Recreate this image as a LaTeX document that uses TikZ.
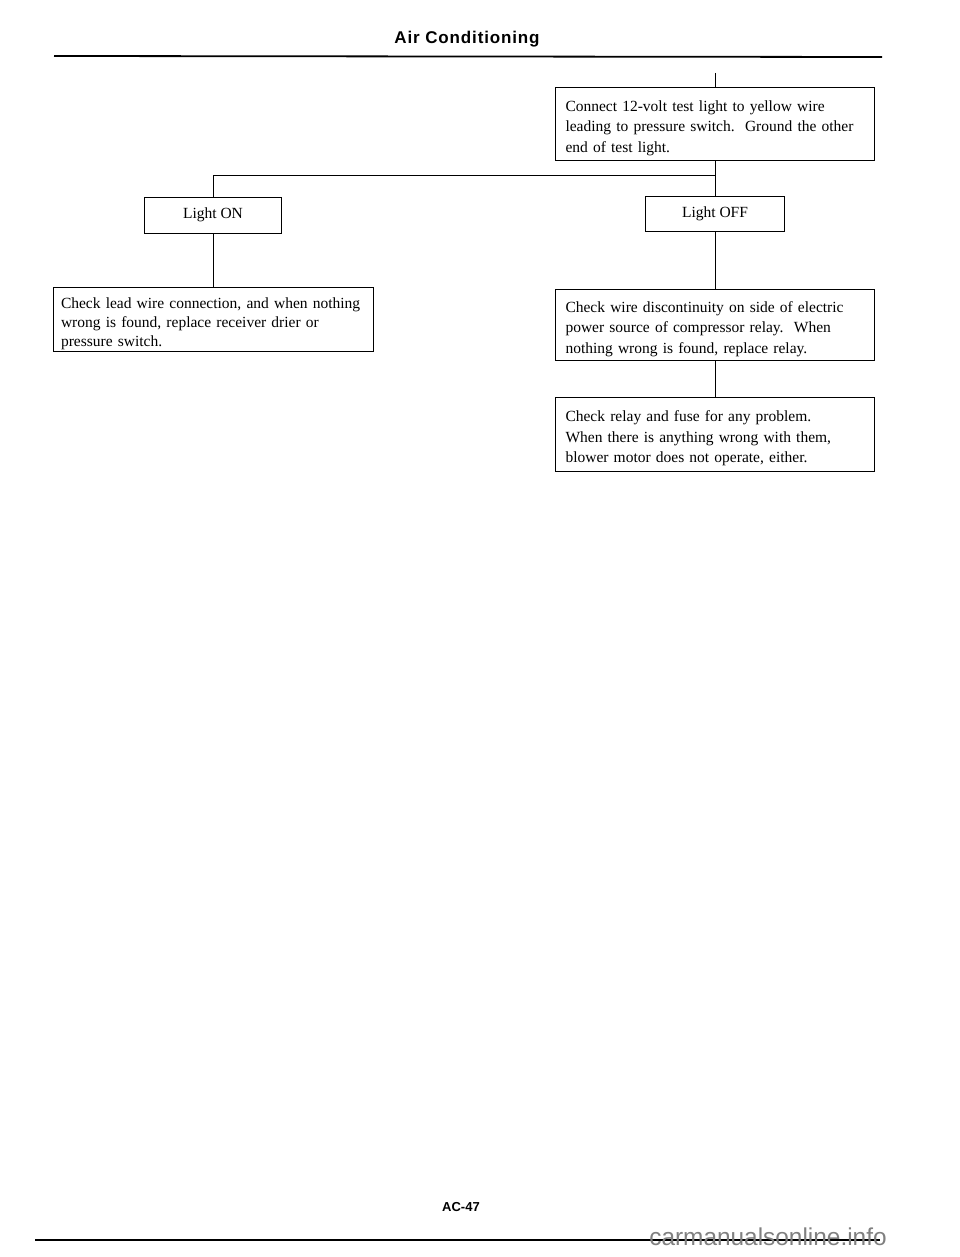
\documentclass[tikz,border=0pt]{standalone}
\usepackage{fontspec}
\setmainfont{Liberation Serif}
\newfontfamily\headfont[LetterSpace=5]{Liberation Sans}
\newfontfamily\markfont{Liberation Sans}
\usepackage{tikz}
\usetikzlibrary{positioning}
\tikzset{chk/.style={draw,line width=0.9pt,align=left,inner xsep=10pt,inner ysep=0pt,font=\fontsize{15.5}{20.5}\selectfont,
    execute at begin node={\rule{0pt}{20pt}}},
  lamp/.style={draw,line width=0.9pt,align=center,inner sep=0pt,font=\fontsize{15.5}{20}\selectfont},
  wire/.style={line width=0.9pt}}

\begin{document}
\begin{tikzpicture}[x=1pt,y=-1pt]
    \useasboundingbox (0,0) rectangle (960,1257);

    % page head and foot
    \node[anchor=base,font=\headfont\bfseries\fontsize{17}{20}\selectfont] (title) at (467,44) {Air Conditioning};
    \draw[line width=1.8pt] (54,56) -- (882,57);
    \node[anchor=base,font=\markfont\bfseries\fontsize{13}{15}\selectfont] (page) at (461,1211) {AC-47};
    \draw[line width=1.5pt] (35,1240) -- (880,1240);
    \node[anchor=base,text=black!50,font=\markfont\fontsize{24.4}{26}\selectfont] (site) at (768,1245) {carmanualsonline.info};

    \coordinate (feed) at (715,73);
    \coordinate (split) at (715,175);
    \node[chk,text width=299pt,minimum height=73pt] (connect) at (715,123.5) {Connect 12-volt test light to yellow wire\\leading to pressure switch.\ \ Ground the other\\end of test light.};
    \node[lamp,minimum width=137pt,minimum height=36pt] (on) at (213,215) {Light ON};
    \node[lamp,minimum width=139pt,minimum height=35pt] (off) at (715,213.5) {Light OFF};
    \node[chk,inner xsep=8pt,text width=304pt,minimum height=64pt,font=\fontsize{15.5}{19}\selectfont] (lead) at (213,319) {Check lead wire connection, and when nothing\\wrong is found, replace receiver drier or\\pressure switch.};
    \node[chk,text width=299pt,minimum height=71pt] (discon) at (715,324.5) {Check wire discontinuity on side of electric\\power source of compressor relay.\ \ When\\nothing wrong is found, replace relay.};
    \node[chk,text width=299pt,minimum height=74pt] (relay) at (715,434) {Check relay and fuse for any problem.\\When there is anything wrong with them,\\blower motor does not operate, either.};

    \draw[wire] (feed) -- (connect);
    \draw[wire] (connect) -- (split) -| (on);
    \draw[wire] (split) -- (off);
    \draw[wire] (on) -- (lead);
    \draw[wire] (off) -- (discon);
    \draw[wire] (discon) -- (relay);
\end{tikzpicture}
\end{document}
